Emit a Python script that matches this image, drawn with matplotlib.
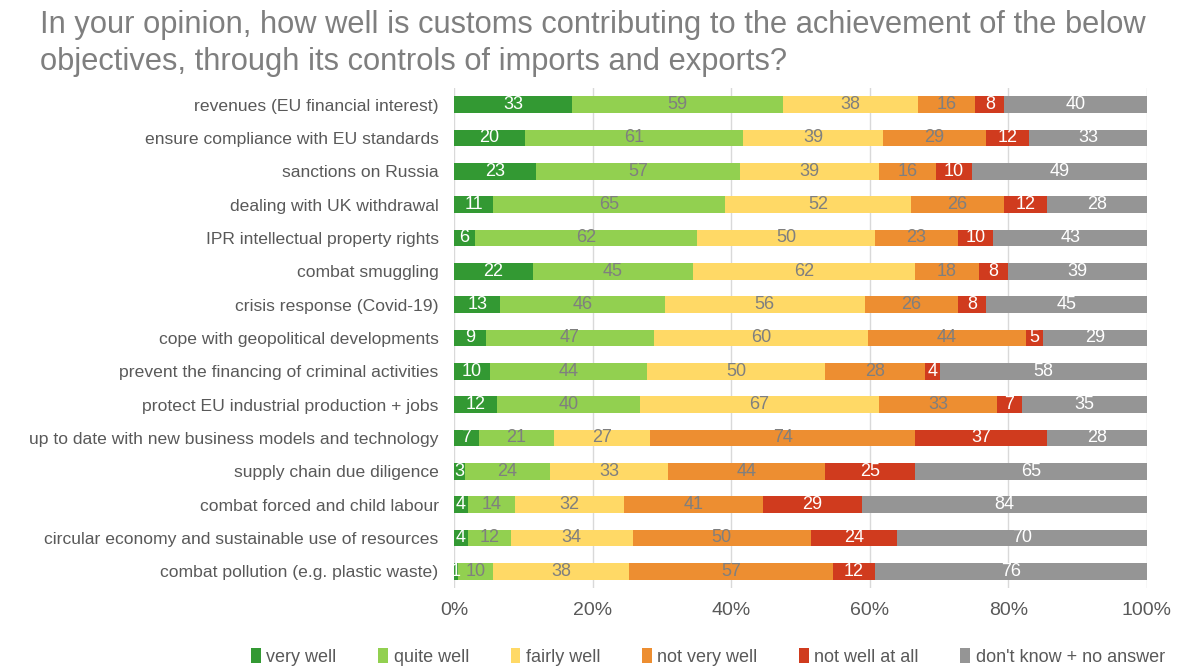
import numpy as np
import matplotlib.pyplot as plt
from matplotlib.ticker import PercentFormatter

# Survey answers per objective (counts)
objectives = [
    'revenues (EU financial interest)',
    'ensure compliance with EU standards',
    'sanctions on Russia',
    'dealing with UK withdrawal',
    'IPR intellectual property rights',
    'combat smuggling',
    'crisis response (Covid-19)',
    'cope with geopolitical developments',
    'prevent the financing of criminal activities',
    'protect EU industrial production + jobs',
    'up to date with new business models and technology',
    'supply chain due diligence',
    'combat forced and child labour',
    'circular economy and sustainable use of resources',
    'combat pollution (e.g. plastic waste)',
]
very_well = [33, 20, 23, 11, 6, 22, 13, 9, 10, 12, 7, 3, 4, 4, 1]
quite_well = [59, 61, 57, 65, 62, 45, 46, 47, 44, 40, 21, 24, 14, 12, 10]
fairly_well = [38, 39, 39, 52, 50, 62, 56, 60, 50, 67, 27, 33, 32, 34, 38]
not_very_well = [16, 29, 16, 26, 23, 18, 26, 44, 28, 33, 74, 44, 41, 50, 57]
not_well_at_all = [8, 12, 10, 12, 10, 8, 8, 5, 4, 7, 37, 25, 29, 24, 12]
dont_know = [40, 33, 49, 28, 43, 39, 45, 29, 58, 35, 28, 65, 84, 70, 76]

series = [very_well, quite_well, fairly_well, not_very_well, not_well_at_all, dont_know]
series_names = ['very well', 'quite well', 'fairly well', 'not very well',
                'not well at all', "don't know + no answer"]
colors = ['#339933', '#92D050', '#FFD966', '#ED8E31', '#D03B1E', '#959595']
label_colors = ['white', '#7f7f7f', '#7f7f7f', '#7f7f7f', 'white', 'white']

data = np.array(series, dtype=float)
totals = data.sum(axis=0)
shares = data / totals

plt.rcParams['font.family'] = ['Liberation Sans', 'DejaVu Sans']

fig = plt.figure(figsize=(11.8, 6.68), dpi=100)
ax = fig.add_axes([0.3847, 0.1198, 0.5873, 0.7485])

y = np.arange(len(objectives))
left = np.zeros(len(objectives))
for vals, share, name, col, lcol in zip(series, shares, series_names, colors, label_colors):
    bars = ax.barh(y, share, left=left, height=0.5, color=col, label=name)
    for b, v in zip(bars, vals):
        cx = b.get_x() + b.get_width() / 2
        ax.text(cx, b.get_y() + b.get_height() / 2, str(v), ha='center', va='center',
                color=lcol, fontsize=13)
    left += share

ax.set_ylim(len(objectives) - 0.5, -0.5)
ax.set_xlim(0, 1)
ax.set_yticks(y)
ax.set_yticklabels(objectives, fontsize=12.6, color='#595959')
ax.set_xticks(np.linspace(0, 1, 6))
ax.xaxis.set_major_formatter(PercentFormatter(1.0, decimals=0))
ax.tick_params(axis='x', labelsize=14, labelcolor='#595959', length=0, pad=10)
ax.tick_params(axis='y', length=0, pad=11)
for s in ax.spines.values():
    s.set_visible(False)
ax.grid(axis='x', color='#d9d9d9', linewidth=1)
ax.set_axisbelow(True)

fig.text(0.034, 0.985, 'In your opinion, how well is customs contributing to the achievement of the below\n'
         'objectives, through its controls of imports and exports?',
         ha='left', va='top', fontsize=22.2, color='#7f7f7f', linespacing=1.3)

fig.legend(loc='center', bbox_to_anchor=(0.6, 0.017), ncol=6, frameon=False,
           fontsize=13, labelcolor='#595959', handlelength=0.55, handleheight=0.9,
           handletextpad=0.3, columnspacing=2.3)

fig.savefig('out.png', dpi=100)
